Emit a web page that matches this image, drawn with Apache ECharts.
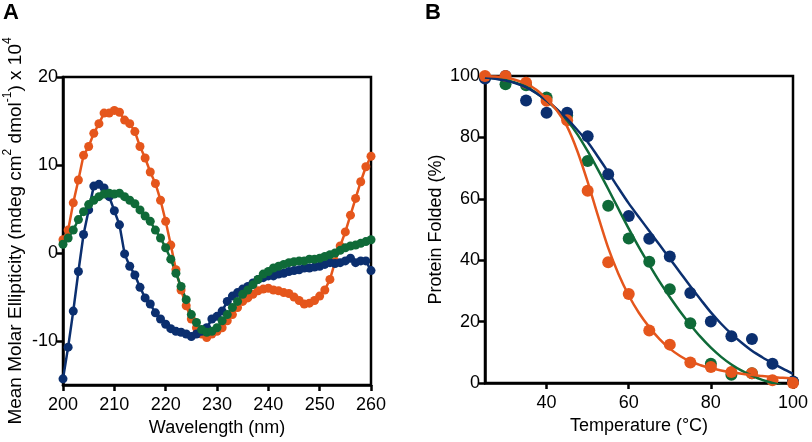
<!DOCTYPE html>
<html>
<head>
<meta charset="utf-8">
<script src="https://cdn.jsdelivr.net/npm/echarts@6/dist/echarts.min.js"></script>
<style>html,body{margin:0;padding:0;background:#fff}#c{width:812px;height:442px}</style>
</head>
<body>
<div id="c"></div>
<script>
// ---------- Panel A: CD spectra ----------
const wavelength = [200,201,202,203,204,205,206,207,208,209,210,211,212,213,214,215,216,217,218,219,220,
  221,222,223,224,225,226,227,228,229,230,231,232,233,234,235,236,237,238,239,240,
  241,242,243,244,245,246,247,248,249,250,251,252,253,254,255,256,257,258,259,260];
const cdOrange = [1.5,2.6,5.7,8.3,11.1,12.1,13.6,14.7,15.9,15.9,16.2,16.0,15.1,14.7,13.8,12.1,10.8,9.2,7.9,6.0,3.6,
  0.9,-1.9,-4.2,-6.0,-7.5,-8.5,-9.2,-9.6,-9.2,-8.9,-8.5,-7.7,-7.0,-6.2,-5.5,-5.1,-4.7,-4.3,-4.1,-4.0,
  -4.2,-4.3,-4.5,-4.6,-5.0,-5.4,-5.8,-5.7,-5.4,-4.9,-4.2,-3.0,-1.0,0.8,2.4,4.3,6.2,8.1,9.8,11.0];
const cdBlue = [-14.3,-10.7,-6.6,-2.1,2.1,4.9,7.6,7.8,7.4,6.4,4.8,3.2,-0.1,-1.5,-2.5,-3.9,-5.1,-5.8,-6.8,-7.5,-8.1,
  -8.6,-8.9,-9.0,-9.2,-9.5,-9.2,-8.9,-8.5,-7.5,-7.2,-6.6,-5.5,-4.9,-4.5,-4.1,-3.8,-3.4,-3.0,-2.8,-2.6,
  -2.6,-2.4,-2.3,-2.1,-2.0,-1.9,-1.7,-1.7,-1.6,-1.5,-1.3,-1.1,-1.2,-1.1,-0.9,-0.6,-1.1,-0.9,-0.9,-2.0];
const cdGreen = [1.0,1.7,2.6,3.8,4.7,5.5,6.0,6.4,6.7,6.8,6.7,6.8,6.4,6.0,5.6,4.9,4.2,3.6,2.6,1.7,0.6,
  -0.7,-2.3,-3.8,-5.3,-7.0,-7.9,-8.7,-9.0,-8.9,-8.5,-7.7,-7.0,-6.2,-5.5,-4.7,-4.2,-3.6,-3.0,-2.4,-2.1,
  -1.7,-1.5,-1.3,-1.1,-1.0,-0.9,-0.9,-0.7,-0.7,-0.6,-0.4,-0.2,0.0,0.3,0.6,0.8,0.9,1.1,1.3,1.5];
const cdTicks = [-10, 0, 10, 20];
const wlTicks = [200, 210, 220, 230, 240, 250, 260];

// ---------- Panel B: thermal melts ----------
const temperature = [25,30,35,40,45,50,55,60,65,70,75,80,85,90,95,100];
const meltBlue   = [99.2,100,92,88,88,80.4,68,54.4,47,41.2,29.3,20,15.2,14.3,6.3,0.5];
const meltGreen  = [99.5,97.3,97,93,87.2,72.3,57.7,47.1,39.5,30.5,19.5,6.3,2.7,3.2,-0.5,0.3];
const meltOrange = [100,100,97.8,91.9,85.6,62.6,39.3,29,17.1,12.5,6.7,5.2,3.6,3.2,0.9,0];
// fitted curves, every 2.5 °C
const fitTemp   = [25,27.5,30,32.5,35,37.5,40,42.5,45,47.5,50,52.5,55,57.5,60,62.5,65,67.5,70,72.5,75,77.5,80,82.5,85,87.5,90,92.5,95,97.5,100];
const fitBlue   = [99.5,99.1,98.5,97.6,96.3,94.4,92,89.2,86,82.4,78.5,73.7,68.7,63.5,58.5,54,49.5,45,40.5,36,31.5,27.2,23,19.3,16,13.1,10.5,8.4,6.5,4.7,3];
const fitGreen  = [99.5,99.2,98.7,97.8,96.5,94.5,92,89,85.5,81,75.5,69.5,63.2,56.7,50.3,44.2,38.5,33,28,23.3,19,15,11.5,8.5,6,4,2.4,1,0,-0.8,-1.5];
const fitOrange = [100,99.8,99.5,98.7,97.5,95.5,92.5,88.8,83.5,75.5,65.5,54.5,44,35.5,28.5,22.8,18.2,14.3,11.2,8.8,7,5.8,4.8,4.1,3.5,3,2.6,2.3,2,1.7,1.5];
const tempTicks = [40, 60, 80, 100];
const foldTicks = [0, 20, 40, 60, 80, 100];

const ORANGE = '#E5561C', BLUE = '#0B2F6F', GREEN = '#0F6A38';
const FONT = 'Liberation Sans, Arial, Helvetica, sans-serif';

function pairs(xs, ys) { return xs.map((x, i) => [x, ys[i]]); }

const axisCommon = {
  axisLine: { show: true, onZero: false, lineStyle: { color: '#000', width: 2.5 } },
  axisTick: { show: true, length: 6, lineStyle: { color: '#000', width: 2.5 } },
  axisLabel: { color: '#000', fontSize: 18, fontFamily: FONT, margin: 5 },
  splitLine: { show: false },
  nameTextStyle: { color: '#000', fontSize: 18, fontFamily: FONT }
};

function cdSeries(name, ys, color) {
  return {
    type: 'line', name: name, xAxisIndex: 0, yAxisIndex: 0,
    data: pairs(wavelength, ys), symbol: 'circle', symbolSize: 9,
    itemStyle: { color: color, opacity: 1 }, lineStyle: { color: color, width: 2.5 },
    animation: false
  };
}
function meltPoints(name, ys, color) {
  return {
    type: 'scatter', name: name, xAxisIndex: 1, yAxisIndex: 1,
    data: pairs(temperature, ys), symbol: 'circle', symbolSize: 12,
    itemStyle: { color: color, opacity: 1 }, animation: false
  };
}
function meltFit(name, ys, color) {
  return {
    type: 'line', name: name, xAxisIndex: 1, yAxisIndex: 1,
    data: pairs(fitTemp, ys), showSymbol: false, smooth: 0.3,
    lineStyle: { color: color, width: 2.5 }, animation: false
  };
}

const xLabel = Object.assign({}, axisCommon.axisLabel, { margin: 11 });

const chart = echarts.init(document.getElementById('c'), null, { renderer: 'canvas' });
chart.setOption({
  backgroundColor: '#fff',
  animation: false,
  grid: [
    { left: 63, top: 77, width: 308, height: 308, show: true, borderColor: '#000', borderWidth: 2.5, backgroundColor: 'transparent' },
    { left: 485, top: 76, width: 308, height: 307, show: true, borderColor: '#000', borderWidth: 2.5, backgroundColor: 'transparent' }
  ],
  xAxis: [
    Object.assign({}, axisCommon, {
      type: 'value', gridIndex: 0, min: 200, max: 260, interval: 10,
      axisTick: Object.assign({}, axisCommon.axisTick, { customValues: wlTicks }),
      axisLabel: Object.assign({}, xLabel, { customValues: wlTicks }),
      name: 'Wavelength (nm)', nameLocation: 'middle', nameGap: 30
    }),
    Object.assign({}, axisCommon, {
      type: 'value', gridIndex: 1, min: 25, max: 100,
      axisTick: Object.assign({}, axisCommon.axisTick, { customValues: tempTicks }),
      axisLabel: Object.assign({}, xLabel, { customValues: tempTicks }),
      name: 'Temperature (°C)', nameLocation: 'middle', nameGap: 30
    })
  ],
  yAxis: [
    Object.assign({}, axisCommon, {
      type: 'value', gridIndex: 0, min: -15, max: 20,
      axisTick: Object.assign({}, axisCommon.axisTick, { customValues: cdTicks }),
      axisLabel: Object.assign({}, axisCommon.axisLabel, { customValues: cdTicks }),
      name: '{a|Mean Molar Ellipticity (mdeg cm}{s|2}{a| dmol}{s|-1}{a|) x 10}{s|4}',
      nameLocation: 'middle', nameGap: 38, nameRotate: 90,
      nameTextStyle: {
        color: '#000', fontFamily: FONT, fontSize: 19,
        rich: {
          a: { fontSize: 19, fontFamily: FONT, color: '#000', lineHeight: 23, verticalAlign: 'bottom' },
          s: { fontSize: 12, fontFamily: FONT, color: '#000', lineHeight: 23, verticalAlign: 'top' }
        }
      }
    }),
    Object.assign({}, axisCommon, {
      type: 'value', gridIndex: 1, min: 0, max: 100, interval: 20,
      axisTick: Object.assign({}, axisCommon.axisTick, { customValues: foldTicks }),
      axisLabel: Object.assign({}, axisCommon.axisLabel, { customValues: foldTicks }),
      name: 'Protein Folded (%)', nameLocation: 'middle', nameGap: 40, nameRotate: 90
    })
  ],
  graphic: [
    { type: 'text', left: 3, top: 2, style: { text: 'A', fontSize: 22, fontWeight: 'bold', fontFamily: FONT, fill: '#000' } },
    { type: 'text', left: 425, top: 2, style: { text: 'B', fontSize: 22, fontWeight: 'bold', fontFamily: FONT, fill: '#000' } }
  ],
  series: [
    cdSeries('orange', cdOrange, ORANGE),
    cdSeries('blue', cdBlue, BLUE),
    cdSeries('green', cdGreen, GREEN),
    meltFit('green fit', fitGreen, GREEN),
    meltFit('blue fit', fitBlue, BLUE),
    meltFit('orange fit', fitOrange, ORANGE),
    meltPoints('green', meltGreen, GREEN),
    meltPoints('blue', meltBlue, BLUE),
    meltPoints('orange', meltOrange, ORANGE)
  ]
});
</script>
</body>
</html>
